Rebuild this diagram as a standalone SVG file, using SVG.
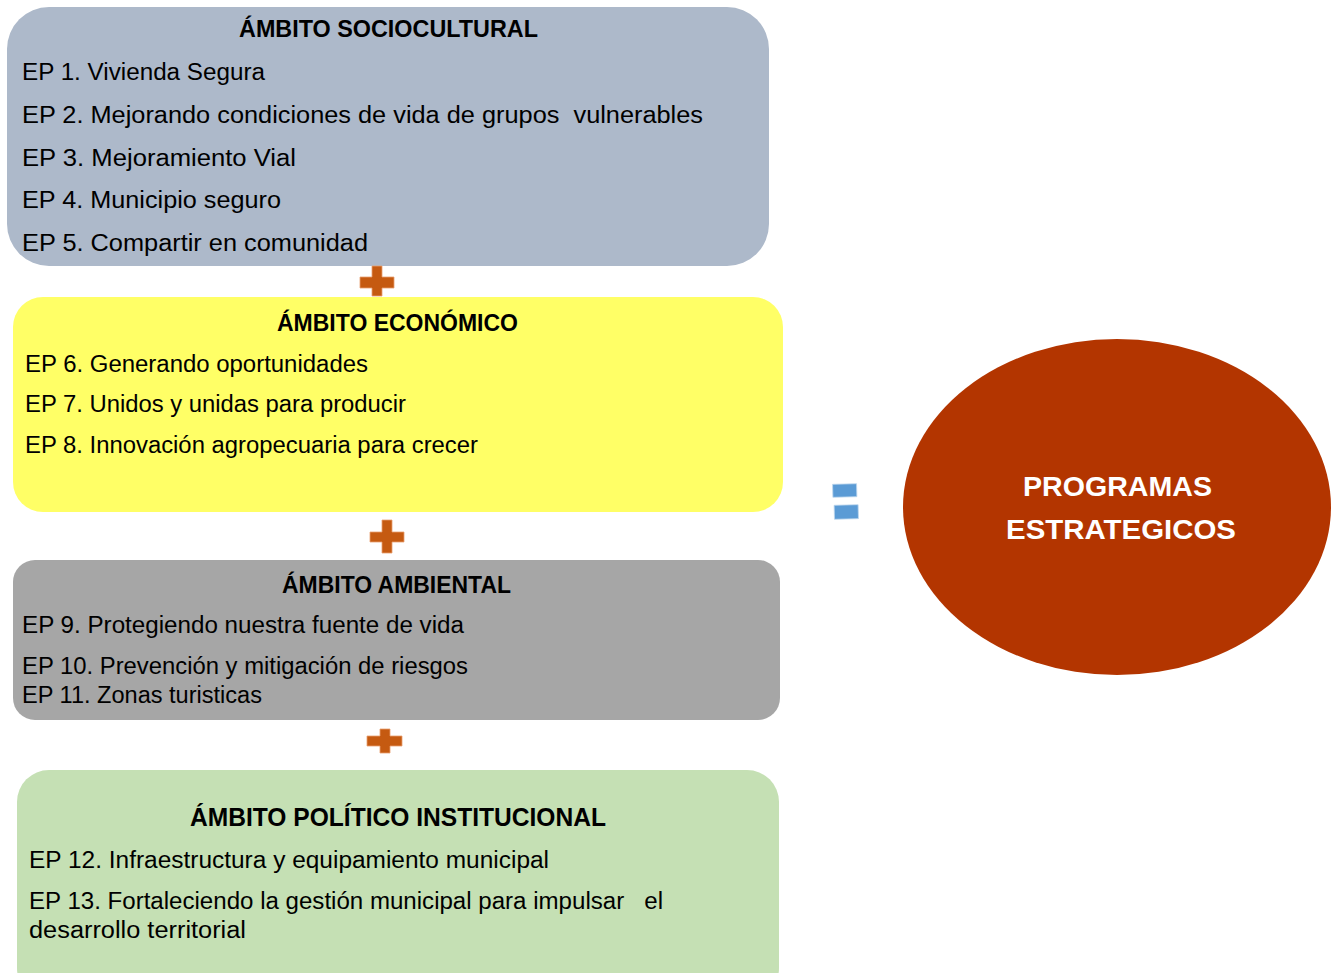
<svg xmlns="http://www.w3.org/2000/svg" width="1333" height="973" viewBox="0 0 1333 973">
<style>
.t{font-family:"Liberation Sans",Arial,sans-serif;font-size:23px;fill:#000}
.h{font-family:"Liberation Sans",Arial,sans-serif;font-size:23px;font-weight:bold;fill:#000}
.w{font-family:"Liberation Sans",Arial,sans-serif;font-size:28px;font-weight:bold;fill:#fff}
.plus{fill:#C55A11;stroke:#E8A070;stroke-width:0.8}
.eq{fill:#5B9BD5;stroke:#BFD7EE;stroke-width:0.8}
</style>
<rect width="1333" height="973" fill="#fff"/>
<g id="sociocultural">
<rect x="7" y="7" width="762" height="259" rx="42" fill="#ADB9CA"/>
<text class="h" x="239" y="37" textLength="299" lengthAdjust="spacingAndGlyphs">ÁMBITO SOCIOCULTURAL</text>
<text class="t" x="22" y="80" textLength="243" lengthAdjust="spacingAndGlyphs">EP 1. Vivienda Segura</text>
<text class="t" x="22" y="123" textLength="681" lengthAdjust="spacingAndGlyphs" xml:space="preserve">EP 2. Mejorando condiciones de vida de grupos  vulnerables</text>
<text class="t" x="22" y="166" textLength="274" lengthAdjust="spacingAndGlyphs">EP 3. Mejoramiento Vial</text>
<text class="t" x="22" y="208" textLength="259" lengthAdjust="spacingAndGlyphs">EP 4. Municipio seguro</text>
<text class="t" x="22" y="251" textLength="346" lengthAdjust="spacingAndGlyphs">EP 5. Compartir en comunidad</text>
</g>
<g id="economico">
<rect x="13" y="297" width="770" height="215" rx="30" fill="#FFFF66"/>
<text class="h" x="277" y="331" textLength="241" lengthAdjust="spacingAndGlyphs">ÁMBITO ECONÓMICO</text>
<text class="t" x="25" y="372" textLength="343" lengthAdjust="spacingAndGlyphs">EP 6. Generando oportunidades</text>
<text class="t" x="25" y="412" textLength="381" lengthAdjust="spacingAndGlyphs">EP 7. Unidos y unidas para producir</text>
<text class="t" x="25" y="453" textLength="453" lengthAdjust="spacingAndGlyphs">EP 8. Innovación agropecuaria para crecer</text>
</g>
<g id="ambiental">
<rect x="13" y="560" width="767" height="160" rx="22" fill="#A6A6A6"/>
<text class="h" x="282" y="593" textLength="229" lengthAdjust="spacingAndGlyphs">ÁMBITO AMBIENTAL</text>
<text class="t" x="22" y="633" textLength="442" lengthAdjust="spacingAndGlyphs">EP 9. Protegiendo nuestra fuente de vida</text>
<text class="t" x="22" y="674" textLength="446" lengthAdjust="spacingAndGlyphs">EP 10. Prevención y mitigación de riesgos</text>
<text class="t" x="22" y="703" textLength="240" lengthAdjust="spacingAndGlyphs">EP 11. Zonas turisticas</text>
</g>
<g id="politico">
<rect x="17" y="770" width="762" height="230" rx="32" fill="#C5E0B4"/>
<text class="h" x="190" y="826" style="font-size:26px" textLength="416" lengthAdjust="spacingAndGlyphs">ÁMBITO POLÍTICO INSTITUCIONAL</text>
<text class="t" x="29" y="868" textLength="520" lengthAdjust="spacingAndGlyphs">EP 12. Infraestructura y equipamiento municipal</text>
<text class="t" x="29" y="909" textLength="634" lengthAdjust="spacingAndGlyphs" xml:space="preserve">EP 13. Fortaleciendo la gestión municipal para impulsar   el</text>
<text class="t" x="29" y="938" textLength="217" lengthAdjust="spacingAndGlyphs">desarrollo territorial</text>
</g>
<g id="programas">
<ellipse cx="1117" cy="507" rx="214" ry="168" fill="#B33500"/>
<text class="w" x="1023" y="496" textLength="189" lengthAdjust="spacingAndGlyphs">PROGRAMAS</text>
<text class="w" x="1006" y="539" textLength="230" lengthAdjust="spacingAndGlyphs">ESTRATEGICOS</text>
</g>
<g id="connectors">
<path class="plus" d="M372 266h10v11h12v11h-12v8h-10v-8h-12v-11h12z"/>
<path class="plus" d="M382 520h10v12h12v10h-12v11h-10v-11h-12v-10h12z"/>
<path class="plus" d="M380 729h10v7h12v10h-12v7h-10v-7h-13v-10h13z"/>
<g transform="rotate(-1.5 845 501)">
<rect class="eq" x="833" y="484" width="24" height="13"/>
<rect class="eq" x="834" y="505" width="24" height="14"/>
</g>
</g>
</svg>
